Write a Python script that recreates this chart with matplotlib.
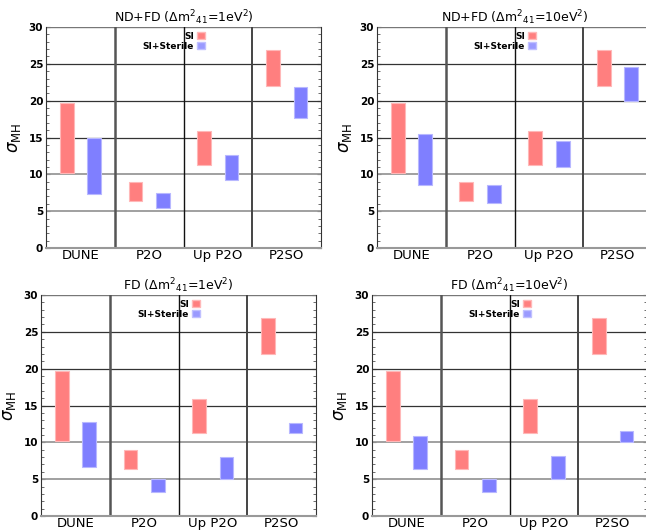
import numpy as np
import matplotlib
matplotlib.use('Agg')
import matplotlib.pyplot as plt
from matplotlib.patches import Patch

# experiments on the x axis
experiments = ['DUNE', 'P2O', 'Up P2O', 'P2SO']

# standard interactions (same in every panel)
si_lo = [10.2, 6.4, 11.3, 22.0]
si_hi = [19.7, 8.9, 15.9, 26.9]

# SI + sterile, one pair per panel
ndfd_1ev_lo = [7.3, 5.4, 9.2, 17.6]
ndfd_1ev_hi = [14.9, 7.4, 12.6, 21.8]
ndfd_10ev_lo = [8.5, 6.1, 11.0, 20.0]
ndfd_10ev_hi = [15.5, 8.5, 14.5, 24.6]
fd_1ev_lo = [6.7, 3.2, 5.0, 11.2]
fd_1ev_hi = [12.8, 5.0, 8.0, 12.6]
fd_10ev_lo = [6.4, 3.2, 5.0, 10.1]
fd_10ev_hi = [10.9, 5.0, 8.1, 11.5]

titles = [r'ND+FD ($\Delta$m$^2$$_{41}$=1eV$^2$)',
          r'ND+FD ($\Delta$m$^2$$_{41}$=10eV$^2$)',
          r'FD ($\Delta$m$^2$$_{41}$=1eV$^2$)',
          r'FD ($\Delta$m$^2$$_{41}$=10eV$^2$)']
sterile = [(ndfd_1ev_lo, ndfd_1ev_hi), (ndfd_10ev_lo, ndfd_10ev_hi),
           (fd_1ev_lo, fd_1ev_hi), (fd_10ev_lo, fd_10ev_hi)]

# axes rectangles in pixels (left, top, width, height)
W, H = 646, 532
rects = [(46, 27, 275, 221), (377, 27, 275, 221),
         (41, 295, 275, 221), (372, 295, 275, 221)]

red = '#ff7f7f'
blue = '#7f7fff'

fig = plt.figure(figsize=(W / 100, H / 100), dpi=100)

for k in range(4):
    l, t, w, h = rects[k]
    ax = fig.add_axes([l / W, (H - t - h) / H, w / W, h / H])
    x = np.arange(len(experiments))
    lo = np.array(si_lo)
    hi = np.array(si_hi)
    ax.bar(x + 0.3, hi - lo, bottom=lo, width=0.2, color=red,
           edgecolor='#ffb8b8', linewidth=0.8, zorder=3)
    slo = np.array(sterile[k][0])
    shi = np.array(sterile[k][1])
    ax.bar(x + 0.7, shi - slo, bottom=slo, width=0.2, color=blue,
           edgecolor='#b8b8ff', linewidth=0.8, zorder=3)

    # grid lines
    for yv in [15, 20, 25]:
        ax.axhline(yv, color='#333333', lw=0.9, zorder=2)
    for yv in [5, 10]:
        ax.axhline(yv, color='#999999', lw=1.3, zorder=2)
    ax.axhline(30, color='#777777', lw=1.0, zorder=2)
    ax.axvline(1, color='#555555', lw=1.8, zorder=2)
    ax.axvline(2, color='#111111', lw=1.0, zorder=2)
    ax.axvline(3, color='#444444', lw=1.4, zorder=2)

    ax.set_xlim(0, 4)
    ax.set_ylim(0, 30)
    ax.set_xticks(x + 0.5)
    ax.set_xticklabels(experiments, fontsize=9.5)
    ax.tick_params(axis='x', length=0, pad=1)
    ax.set_yticks(np.arange(0, 31, 5))
    ax.set_yticks(np.arange(0, 31, 1), minor=True)
    ax.tick_params(axis='y', which='major', direction='in', length=3,
                   right=True, labelsize=7.5, pad=2, color='#333333')
    ax.tick_params(axis='y', which='minor', direction='in', length=2,
                   right=True, color='#555555')
    for lab in ax.get_yticklabels():
        lab.set_fontweight('bold')
    ax.spines['top'].set_visible(False)
    ax.spines['bottom'].set_color('#999999')
    ax.spines['bottom'].set_linewidth(1.5)
    ax.spines['left'].set_color('#333333')
    ax.spines['right'].set_color('#333333')
    ax.set_title(titles[k], fontsize=9, pad=2)
    ax.set_ylabel(r'$\sigma_{\rm MH}$', fontsize=12, labelpad=4)

    handles = [Patch(facecolor=red, edgecolor='#ffb8b8'),
               Patch(facecolor='#9a9aff', edgecolor='#c0c0ff')]
    ax.legend(handles, ['SI', 'SI+Sterile'], markerfirst=False, frameon=False,
              loc='upper right', bbox_to_anchor=(0.59, 0.995),
              handlelength=0.8, handleheight=0.8, handletextpad=0.4,
              labelspacing=0.15, borderaxespad=0,
              prop={'size': 6.5, 'weight': 'bold'})

fig.savefig('out.png', dpi=100)
